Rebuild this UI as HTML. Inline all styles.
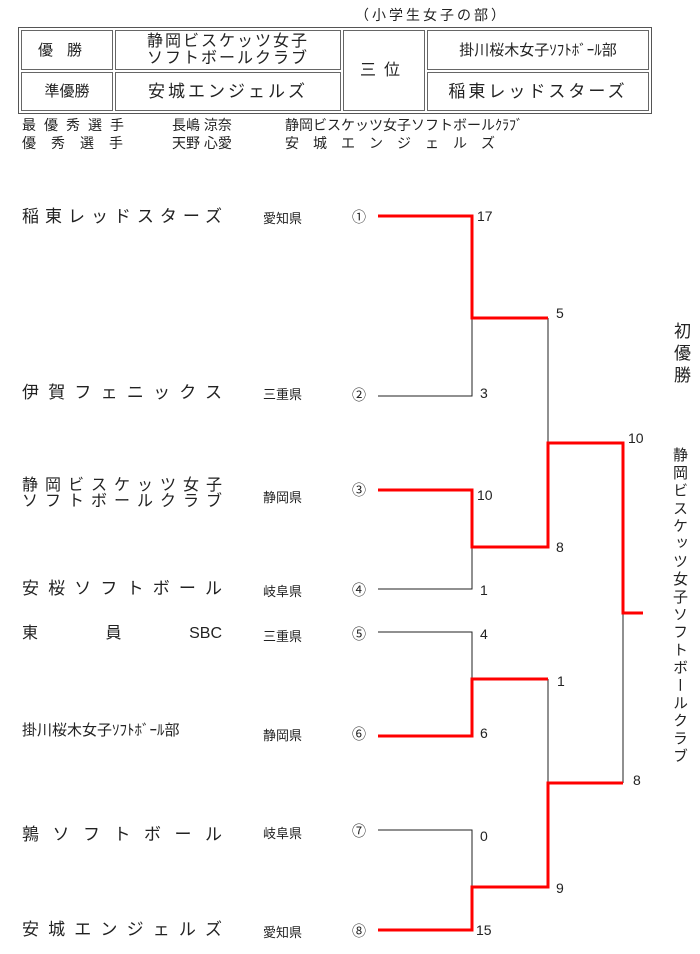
<!DOCTYPE html>
<html><head><meta charset="utf-8"><style>
body{margin:0;width:700px;height:954px;background:#fff;position:relative;overflow:hidden;font-family:"Liberation Sans","Noto Sans CJK JP",sans-serif;color:#222}
.a{position:absolute;white-space:nowrap}
.n{position:absolute;left:22px;width:200px;font-size:16px;text-align:justify;text-align-last:justify;line-height:18px}
.p{position:absolute;left:263px;font-size:13px}
.c{position:absolute;left:352px;font-size:14px}
.s{position:absolute;font-size:14px}
.cell{position:absolute;border:1px solid #666;box-sizing:border-box;display:flex;align-items:center;justify-content:center;text-align:center;font-size:16px;line-height:17px}
.v{position:absolute;left:672px;font-size:16px;writing-mode:vertical-rl}
</style></head><body>
<div class="a" style="left:355px;top:5px;font-size:14px;letter-spacing:3px">（小学生女子の部）</div>
<div style="position:absolute;left:18px;top:27px;width:634px;height:87px;border:1px solid #555;box-sizing:border-box"></div>
<div class="cell" style="left:21px;top:30px;width:92px;height:40px;letter-spacing:14px;font-size:15px">優勝</div>
<div class="cell" style="left:21px;top:72px;width:92px;height:39px;font-size:15px">準優勝</div>
<div class="cell" style="left:115px;top:30px;width:226px;height:40px;letter-spacing:2px">静岡ビスケッツ女子<br>ソフトボールクラブ</div>
<div class="cell" style="left:115px;top:72px;width:226px;height:39px;letter-spacing:3px;font-size:17px">安城エンジェルズ</div>
<div class="cell" style="left:343px;top:30px;width:82px;height:81px;letter-spacing:8px">三位</div>
<div class="cell" style="left:427px;top:30px;width:222px;height:40px;font-size:15px">掛川桜木女子ｿﾌﾄﾎﾞｰﾙ部</div>
<div class="cell" style="left:427px;top:72px;width:222px;height:39px;letter-spacing:3px;font-size:17px">稲東レッドスターズ</div>
<div class="a" style="left:22px;top:116px;font-size:14px;line-height:18px">
<span style="display:inline-block;width:150px;letter-spacing:8px">最優秀選手</span><span style="display:inline-block;width:113px">長嶋 涼奈</span>静岡ビスケッツ女子ソフトボールｸﾗﾌﾞ<br>
<span style="display:inline-block;width:150px;letter-spacing:15px">優秀選手</span><span style="display:inline-block;width:113px">天野 心愛</span><span style="letter-spacing:14px">安城エンジェルズ</span></div>

<div class="n" style="top:208px;font-size:17px">稲東レッドスターズ</div>
<div class="n" style="top:384px;font-size:17px">伊賀フェニックス</div>
<div class="n" style="top:478px;font-size:16px;line-height:16px">静岡ビスケッツ女子<br>ソフトボールクラブ</div>
<div class="n" style="top:580px;font-size:17px">安桜ソフトボール</div>
<div class="n" style="top:625px;font-size:16px">東　員　SBC</div>
<div class="n" style="top:722px;font-size:15px;text-align-last:left;letter-spacing:0">掛川桜木女子ｿﾌﾄﾎﾞｰﾙ部</div>
<div class="n" style="top:826px;font-size:17px">鶉ソフトボール</div>
<div class="n" style="top:921px;font-size:17px">安城エンジェルズ</div>

<div class="p" style="top:208px">愛知県</div><div class="p" style="top:384px">三重県</div>
<div class="p" style="top:487px">静岡県</div><div class="p" style="top:581px">岐阜県</div>
<div class="p" style="top:626px">三重県</div><div class="p" style="top:725px">静岡県</div>
<div class="p" style="top:823px">岐阜県</div><div class="p" style="top:922px">愛知県</div>
<div class="c" style="top:207px">①</div><div class="c" style="top:385px">②</div>
<div class="c" style="top:480px">③</div><div class="c" style="top:580px">④</div>
<div class="c" style="top:624px">⑤</div><div class="c" style="top:724px">⑥</div>
<div class="c" style="top:821px">⑦</div><div class="c" style="top:921px">⑧</div>

<svg width="700" height="954" style="position:absolute;left:0;top:0" fill="none">
<g stroke="#222" stroke-width="1">
<path d="M378 396H472V318M548 318V443M378 589H472V547M378 632H472V679M548 679V783M623 613V783M378 830H472V887"/>
</g>
<g stroke="#f00" stroke-width="3">
<path d="M378 216H472V318H548M378 490H472V547H548V443H623V613H643M378 736H472V679H548M378 930H472V887H548V783H623"/>
</g>
</svg>
<div class="s" style="left:477px;top:208px">17</div>
<div class="s" style="left:556px;top:305px">5</div>
<div class="s" style="left:480px;top:385px">3</div>
<div class="s" style="left:628px;top:430px">10</div>
<div class="s" style="left:477px;top:487px">10</div>
<div class="s" style="left:556px;top:539px">8</div>
<div class="s" style="left:480px;top:582px">1</div>
<div class="s" style="left:480px;top:626px">4</div>
<div class="s" style="left:557px;top:673px">1</div>
<div class="s" style="left:480px;top:725px">6</div>
<div class="s" style="left:633px;top:772px">8</div>
<div class="s" style="left:480px;top:828px">0</div>
<div class="s" style="left:556px;top:880px">9</div>
<div class="s" style="left:476px;top:922px">15</div>
<div class="v" style="top:322px;font-size:17px;line-height:17px;letter-spacing:5px">初優勝</div>
<div class="v" style="top:447px;font-size:15px;line-height:15px;letter-spacing:2.7px">静岡ビスケッツ女子ソフトボールクラブ</div>
</body></html>
